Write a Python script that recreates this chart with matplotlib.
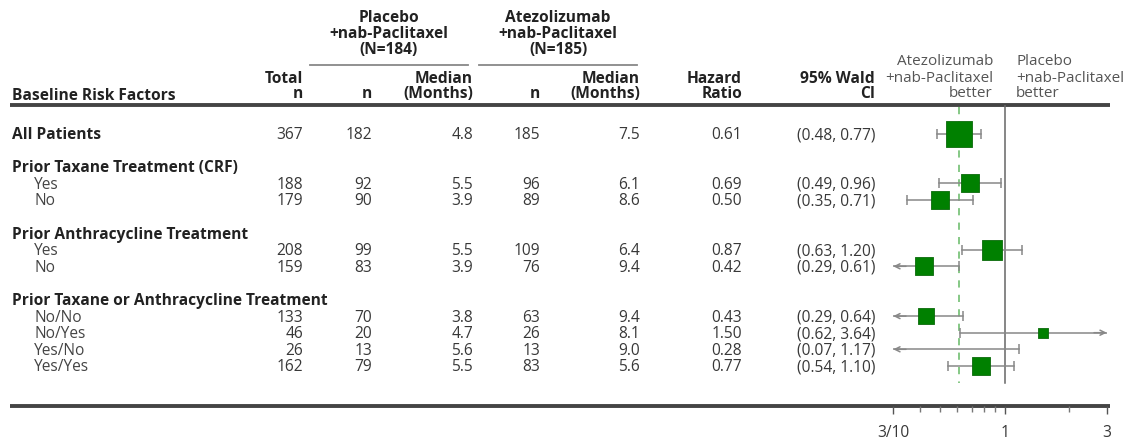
import numpy as np
import matplotlib
matplotlib.use("Agg")
import matplotlib.pyplot as plt
from matplotlib.ticker import FixedLocator, NullFormatter

# ---- data -------------------------------------------------------------
labels = ["All Patients",
          "Prior Taxane Treatment (CRF)", "Yes", "No",
          "Prior Anthracycline Treatment", "Yes", "No",
          "Prior Taxane or Anthracycline Treatment",
          "No/No", "No/Yes", "Yes/No", "Yes/Yes"]
is_header = [True, True, False, False, True, False, False, True,
             False, False, False, False]
total_n = [367, None, 188, 179, None, 208, 159, None, 133, 46, 26, 162]
pbo_n = [182, None, 92, 90, None, 99, 83, None, 70, 20, 13, 79]
pbo_median = [4.8, None, 5.5, 3.9, None, 5.5, 3.9, None, 3.8, 4.7, 5.6, 5.5]
atz_n = [185, None, 96, 89, None, 109, 76, None, 63, 26, 13, 83]
atz_median = [7.5, None, 6.1, 8.6, None, 6.4, 9.4, None, 9.4, 8.1, 9.0, 5.6]
hazard_ratio = [0.61, None, 0.69, 0.50, None, 0.87, 0.42, None,
                0.43, 1.50, 0.28, 0.77]
ci_low = [0.48, None, 0.49, 0.35, None, 0.63, 0.29, None,
          0.29, 0.62, 0.07, 0.54]
ci_high = [0.77, None, 0.96, 0.71, None, 1.20, 0.61, None,
           0.64, 3.64, 1.17, 1.10]
pbo_arm = ["Placebo", "+nab-Paclitaxel", "(N=184)"]
atz_arm = ["Atezolizumab", "+nab-Paclitaxel", "(N=185)"]
left_better = ["Atezolizumab", "+nab-Paclitaxel", "better"]
right_better = ["Placebo", "+nab-Paclitaxel", "better"]
axis_ticks = [0.3, 1, 3]
axis_tick_labels = ["3/10", "1", "3"]
axis_minor = [0.4, 0.5, 0.6, 0.7, 0.8, 0.9, 2]

# ---- layout (pixel coordinates, y downward) ---------------------------
W, H = 1136, 442
row_slot = [0, 2, 3, 4, 6, 7, 8, 10, 11, 12, 13, 14]
ROW0, STEP = 133.5, 16.6
row_y = [ROW0 + STEP * s for s in row_slot]
BASE = 5.5            # baseline offset from row centre
FOREST_X0, FOREST_X1 = 893, 1107
HEAD_LINE_Y, AXIS_Y = 104.5, 406
XMIN, XMAX = 0.3, 3.0

FS = 11.2
plt.rcParams['font.family'] = ['Open Sans', 'DejaVu Sans']
TXT = '#383838'
HDR = '#222222'

fig = plt.figure(figsize=(W / 100, H / 100), dpi=100)
bg = fig.add_axes([0, 0, 1, 1])
bg.set_xlim(0, W)
bg.set_ylim(H, 0)
bg.axis('off')

# treatment arm headers
for y, t1, t2 in zip([22, 38, 54], pbo_arm, atz_arm):
    bg.text(389, y, t1, ha='center', va='baseline', fontsize=FS,
            fontweight='bold', color=HDR)
    bg.text(558, y, t2, ha='center', va='baseline', fontsize=FS,
            fontweight='bold', color=HDR)
bg.plot([310, 468], [65, 65], color='#888888', lw=1.3)
bg.plot([479, 637], [65, 65], color='#888888', lw=1.3)

# column headers
col_right = {'total': 303, 'pbo_n': 372, 'pbo_med': 473, 'atz_n': 540,
             'atz_med': 640, 'hr': 742, 'ci': 875}
hdr_top = {'total': "Total", 'pbo_med': "Median", 'atz_med': "Median",
           'hr': "Hazard", 'ci': "95% Wald"}
hdr_bot = {'total': "n", 'pbo_n': "n", 'pbo_med': "(Months)", 'atz_n': "n",
           'atz_med': "(Months)", 'hr': "Ratio", 'ci': "CI"}
for k, t in hdr_top.items():
    bg.text(col_right[k], 83, t, ha='right', va='baseline', fontsize=FS,
            fontweight='bold', color=HDR)
for k, t in hdr_bot.items():
    bg.text(col_right[k], 98.5, t, ha='right', va='baseline', fontsize=FS,
            fontweight='bold', color=HDR)
bg.text(12, 99.5, "Baseline Risk Factors", ha='left', va='baseline',
        fontsize=FS, fontweight='bold', color=HDR)

for y, t1, t2 in zip([65, 81.5, 97], left_better, right_better):
    bg.text(993, y, t1, ha='right', va='baseline', fontsize=FS - 0.2,
            color='#555555')
    bg.text(1016, y, t2, ha='left', va='baseline', fontsize=FS - 0.2,
            color='#555555')

bg.plot([10, 1110], [HEAD_LINE_Y, HEAD_LINE_Y], color='#444444', lw=2.8,
        solid_capstyle='butt')
bg.plot([10, 1110], [AXIS_Y, AXIS_Y], color='#444444', lw=2.8,
        solid_capstyle='butt')

# table body
for i, lab in enumerate(labels):
    y = row_y[i] + BASE
    if is_header[i]:
        bg.text(12, y, lab, ha='left', va='baseline', fontsize=FS,
                fontweight='bold', color=HDR)
    else:
        bg.text(34, y, lab, ha='left', va='baseline', fontsize=FS,
                color='#444444')
    if total_n[i] is None:
        continue
    vals = {'total': f"{total_n[i]}", 'pbo_n': f"{pbo_n[i]}",
            'pbo_med': f"{pbo_median[i]:.1f}", 'atz_n': f"{atz_n[i]}",
            'atz_med': f"{atz_median[i]:.1f}", 'hr': f"{hazard_ratio[i]:.2f}",
            'ci': f"({ci_low[i]:.2f}, {ci_high[i]:.2f})"}
    for k, t in vals.items():
        bg.text(col_right[k], y, t, ha='right', va='baseline', fontsize=FS,
                color=TXT)

# ---- forest plot ------------------------------------------------------
fx = fig.add_axes([FOREST_X0 / W, 1 - AXIS_Y / H,
                   (FOREST_X1 - FOREST_X0) / W, (AXIS_Y - HEAD_LINE_Y) / H])
fx.patch.set_alpha(0)
fx.set_xscale('log')
fx.set_xlim(XMIN, XMAX)
fx.set_ylim(AXIS_Y, HEAD_LINE_Y)
for s in fx.spines.values():
    s.set_visible(False)
fx.yaxis.set_visible(False)
fx.xaxis.set_major_locator(FixedLocator(axis_ticks))
fx.set_xticklabels(axis_tick_labels)
fx.xaxis.set_minor_locator(FixedLocator(axis_minor))
fx.xaxis.set_minor_formatter(NullFormatter())
fx.tick_params(axis='x', which='major', length=5.5, width=1, color='#555555',
               direction='out', pad=8.5, labelsize=FS, labelcolor=TXT)
fx.tick_params(axis='x', which='minor', length=4, width=1, color='#777777',
               direction='out')

line_bottom = 383
fx.plot([1, 1], [HEAD_LINE_Y, line_bottom], color='#666666', lw=1.1)
fx.plot([hazard_ratio[0]] * 2, [HEAD_LINE_Y + 2, line_bottom],
        color='#7cc47c', lw=1.3, dashes=(4, 4))

CI_COL = '#888888'
for i in range(len(labels)):
    if hazard_ratio[i] is None:
        continue
    y = row_y[i]
    lo, hi = ci_low[i], ci_high[i]
    lo_c, hi_c = max(lo, XMIN), min(hi, XMAX)
    fx.plot([lo_c, hi_c], [y, y], color=CI_COL, lw=1.1, zorder=2)
    if lo < XMIN:
        fx.annotate('', xy=(XMIN * 1.003, y), xytext=(XMIN * 1.15, y),
                    arrowprops=dict(arrowstyle='->', color=CI_COL, lw=1.1,
                                    mutation_scale=9, shrinkA=0, shrinkB=0),
                    annotation_clip=False)
    else:
        fx.plot([lo], [y], marker='|', ms=7, mew=1.1, color=CI_COL, zorder=2)
    if hi > XMAX:
        fx.annotate('', xy=(XMAX / 1.003, y), xytext=(XMAX / 1.15, y),
                    arrowprops=dict(arrowstyle='->', color=CI_COL, lw=1.1,
                                    mutation_scale=9, shrinkA=0, shrinkB=0),
                    annotation_clip=False)
    else:
        fx.plot([hi], [y], marker='|', ms=7, mew=1.1, color=CI_COL, zorder=2)
    hr = hazard_ratio[i]
    if XMIN <= hr <= XMAX:
        side_pt = 1.35 * np.sqrt(total_n[i]) * 0.72
        fx.scatter([hr], [y], s=side_pt ** 2, marker='s', color='#008000',
                   edgecolors='#0a6a0a', linewidths=0.6, zorder=3)

fig.savefig("out.png", dpi=100)
